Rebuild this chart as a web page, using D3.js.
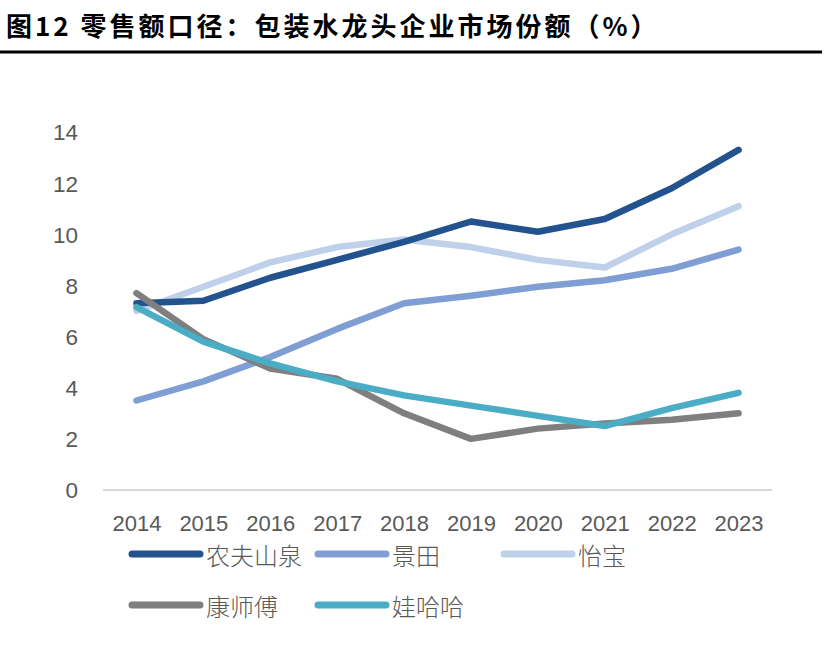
<!DOCTYPE html>
<html>
<head>
<meta charset="utf-8">
<script src="https://cdn.jsdelivr.net/npm/d3@7"></script>
<style>
  html, body { margin: 0; padding: 0; background: #fff; }
  svg { display: block; }
</style>
</head>
<body>
<svg id="chart" width="830" height="652"></svg>
<script>
const titleText = "图12 零售额口径：包装水龙头企业市场份额（%）";
const years = ["2014","2015","2016","2017","2018","2019","2020","2021","2022","2023"];
const yTicks = [0, 2, 4, 6, 8, 10, 12, 14];
const seriesNames = ["农夫山泉", "景田", "怡宝", "康师傅", "娃哈哈"];
const nongfu = [7.3, 7.4, 8.3, 9.0, 9.7, 10.5, 10.1, 10.6, 11.8, 13.3];
const jingtian = [3.5, 4.25, 5.2, 6.3, 7.3, 7.6, 7.95, 8.2, 8.65, 9.4];
const yibao = [7.0, 7.95, 8.9, 9.5, 9.8, 9.5, 9.0, 8.7, 10.0, 11.1];
const kangshifu = [7.7, 5.9, 4.75, 4.35, 3.0, 2.0, 2.4, 2.6, 2.75, 3.0];
const wahaha = [7.15, 5.8, 4.95, 4.25, 3.7, 3.3, 2.9, 2.5, 3.2, 3.8];
const seriesValues = [nongfu, jingtian, yibao, kangshifu, wahaha];
const colors = ["#22538E", "#7F9ED3", "#BFD0EA", "#7F7F7F", "#4BACC6"];
const drawOrder = [2, 0, 1, 3, 4];

const svg = d3.select("#chart");

// Title
svg.append("text")
  .attr("x", 6).attr("y", 24)
  .attr("dominant-baseline", "central")
  .attr("font-family", "'Noto Sans CJK SC', sans-serif")
  .attr("font-weight", "bold")
  .attr("font-size", 26)
  .attr("letter-spacing", 3)
  .attr("fill", "#000")
  .text(titleText);
svg.append("line")
  .attr("x1", 0).attr("x2", 822).attr("y1", 52).attr("y2", 52)
  .attr("stroke", "#000").attr("stroke-width", 3);

const x = d3.scalePoint().domain(years).range([103, 772]).padding(0.5);
const y = d3.scaleLinear().domain([0, 14]).range([490, 132]);

// Y axis labels
const yAxis = d3.axisLeft(y).tickValues(yTicks).tickSize(0).tickPadding(0);
const gy = svg.append("g").attr("transform", "translate(78,0)").call(yAxis);
gy.select(".domain").remove();
gy.selectAll("text")
  .attr("font-family", "'Liberation Sans', Arial, sans-serif")
  .attr("font-size", 22.5)
  .attr("fill", "#595959")
  .attr("dy", "0.35em");

// X axis
const xAxis = d3.axisBottom(x).tickSize(0).tickPadding(0);
const gx = svg.append("g").attr("transform", "translate(0,490)").call(xAxis);
gx.select(".domain")
  .attr("d", `M103,0H772`)
  .attr("stroke", "#D9D9D9").attr("stroke-width", 2);
gx.selectAll("text")
  .attr("font-family", "'Liberation Sans', Arial, sans-serif")
  .attr("font-size", 22)
  .attr("fill", "#595959")
  .attr("y", 41)
  .attr("dy", 0);

// Lines
const line = d3.line()
  .x((d, i) => x(years[i]))
  .y(d => y(d));

drawOrder.forEach(si => {
  svg.append("path")
    .datum(seriesValues[si])
    .attr("d", line)
    .attr("fill", "none")
    .attr("stroke", colors[si])
    .attr("stroke-width", 6.5)
    .attr("stroke-linecap", "round")
    .attr("stroke-linejoin", "round");
});

// Legend
const legendPos = [
  {x: 132, y: 554}, {x: 318, y: 554}, {x: 504, y: 554},
  {x: 132, y: 605}, {x: 318, y: 605}
];
const lg = svg.append("g");
seriesNames.forEach((name, i) => {
  const p = legendPos[i];
  lg.append("line")
    .attr("x1", p.x).attr("x2", p.x + 68)
    .attr("y1", p.y).attr("y2", p.y)
    .attr("stroke", colors[i])
    .attr("stroke-width", 7)
    .attr("stroke-linecap", "round");
  lg.append("text")
    .attr("x", p.x + 74).attr("y", p.y)
    .attr("dominant-baseline", "central")
    .attr("font-family", "'Noto Sans CJK SC', sans-serif")
    .attr("font-size", 24)
    .attr("font-weight", 300)
    .attr("fill", "#595959")
    .text(name);
});
</script>
</body>
</html>
